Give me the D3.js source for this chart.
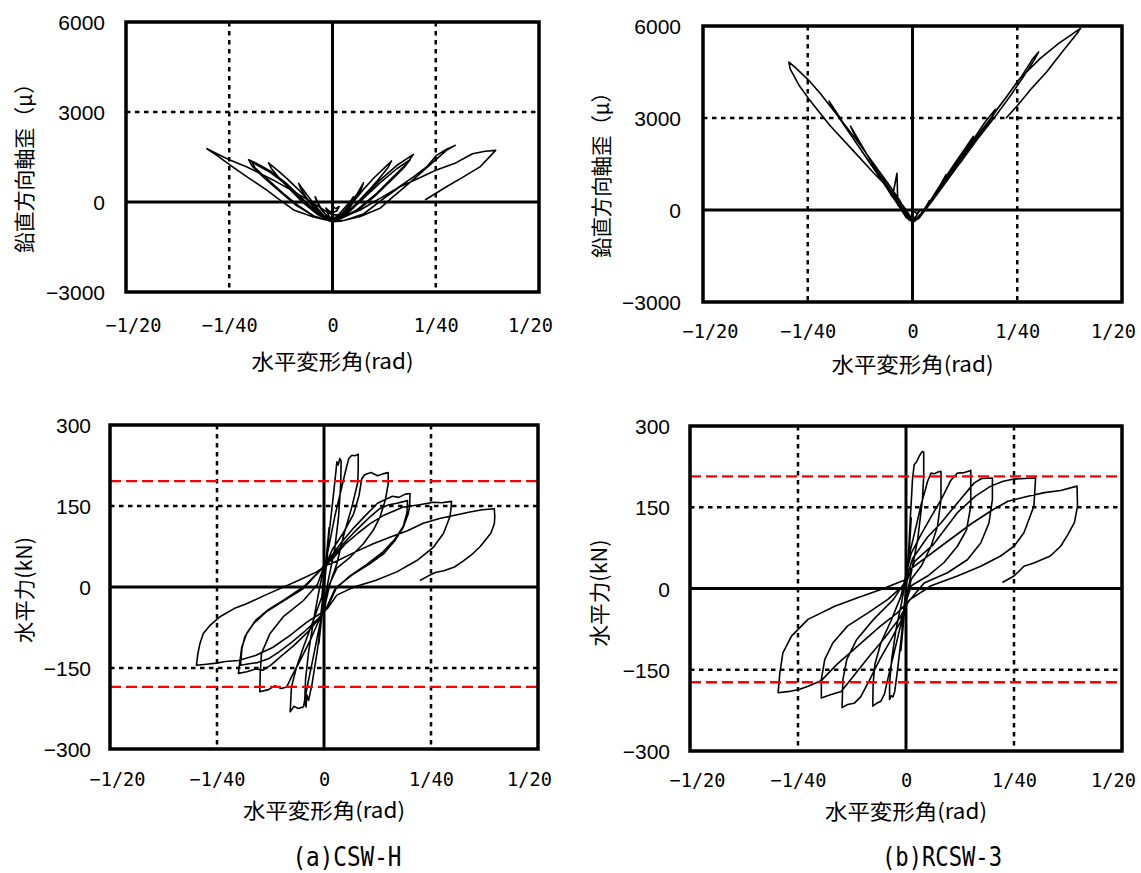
<!DOCTYPE html>
<html><head><meta charset="utf-8">
<script src="https://cdn.jsdelivr.net/npm/d3@7"></script>
<style>body{margin:0;background:#fff}svg{display:block}</style>
</head><body>
<svg id="c" width="1141" height="873"></svg>
<script>
// ---------- data ----------
const xTickValues = [-0.05, -0.025, 0, 0.025, 0.05];
const xTickLabels = ["−1/20", "−1/40", "0", "1/40", "1/20"];
const strainTicks = [-3000, 0, 3000, 6000];
const forceTicks = [-300, -150, 0, 150, 300];
const xTitle = "水平変形角(rad)";
const strainTitle = "鉛直方向軸歪（μ）";
const forceTitle = "水平力(kN)";
const captions = ["(a)CSW-H", "(b)RCSW-3"];
const cswCapacity = [196, -185];
const rcswCapacity = [207, -173];

// (a) CSW-H : drift angle (rad) vs vertical axial strain (μ)
const cswStrain = [
 [0,-150],[0.0008,-220],[0.0016,-150],[0.0010,-300],[0,-360],[-0.0008,-300],[-0.0016,-200],[-0.0010,-350],[0,-430],
 [0.0015,-420],[0.0030,-180],[0.0045,60],[0.0051,176],[0.0046,40],[0.0032,-260],[0.0016,-460],[0,-540],
 [-0.0015,-450],[-0.0030,-160],[-0.0042,176],[-0.0040,70],[-0.0028,-240],[-0.0012,-480],[0,-570],
 [0.0020,-430],[0.0040,-120],[0.0060,280],[0.0075,640],[0.0070,430],[0.0058,150],[0.0040,-230],[0.0020,-510],[0,-610],
 [-0.0020,-470],[-0.0040,-150],[-0.0062,240],[-0.0082,618],[-0.0076,420],[-0.0062,110],[-0.0040,-280],[-0.0018,-530],[0,-620],
 [0.0025,-420],[0.0050,0],[0.0075,420],[0.0100,800],[0.0125,1130],[0.0143,1368],[0.0135,1160],[0.0115,820],[0.0090,420],[0.0060,-20],[0.0030,-430],[0.0008,-610],
 [-0.0025,-440],[-0.0050,-60],[-0.0080,380],[-0.0110,780],[-0.0135,1080],[-0.0155,1302],[-0.0148,1120],[-0.0128,780],[-0.0100,380],[-0.0070,-40],[-0.0035,-430],[-0.0005,-630],
 [0.0035,-375],[0.0075,176],[0.0115,728],[0.0156,1224],[0.0196,1588],[0.0180,1280],[0.0147,838],[0.0107,287],[0.0059,-265],[0.0010,-600],
 [-0.0030,-440],[-0.0070,70],[-0.0110,600],[-0.0150,1030],[-0.0180,1260],[-0.0203,1412],[-0.0195,1200],[-0.0170,860],[-0.0130,380],[-0.0090,-90],[-0.0045,-470],[-0.0005,-640],
 [0.0035,-400],[0.0075,120],[0.0115,640],[0.0155,1100],[0.0188,1412],[0.0175,1180],[0.0145,760],[0.0105,230],[0.0060,-300],[0.0010,-620],
 [-0.0030,-470],[-0.0070,40],[-0.0110,560],[-0.0150,980],[-0.0195,1330],[-0.0188,1150],[-0.0160,790],[-0.0120,300],[-0.0080,-150],[-0.0040,-510],[0,-650],
 [0.0019,-540],[0.0067,-265],[0.0115,121],[0.0156,452],[0.0196,838],[0.0228,1169],[0.0252,1555],[0.0275,1750],[0.0297,1886],[0.0276,1720],[0.0244,1335],[0.0212,949],[0.0180,563],[0.0147,176],[0.0115,-210],[0.0067,-485],[0.0019,-640],[0,-660],
 [-0.0014,-320],[-0.0046,-44],[-0.0086,287],[-0.0143,728],[-0.0207,1169],[-0.0247,1390],[-0.0264,1500],[-0.0304,1776],[-0.0280,1555],[-0.0247,1224],[-0.0207,838],[-0.0159,397],[-0.0127,66],[-0.0094,-265],[-0.0046,-500],[0,-650],
 [0.0030,-610],[0.0075,-400],[0.0119,66],[0.0163,506],[0.0210,800],[0.0250,1058],[0.0295,1280],[0.0339,1610],[0.0370,1690],[0.0395,1720],[0.0357,1169],[0.0317,838],[0.0276,507],[0.0224,66]
];

// (b) RCSW-3 : drift angle (rad) vs vertical axial strain (μ)
const rcswStrain = [
 [0,0],[0.0010,-120],[0.0016,-40],[0.0008,-220],[0,-280],[-0.0010,-220],[-0.0016,-120],[-0.0008,-260],[0,-320],
 [0.0012,-300],[0.0025,-60],[0.0040,300],[0.0032,110],[0.0018,-160],[0.0005,-350],
 [-0.0010,-290],[-0.0025,0],[-0.0045,450],[-0.0038,240],[-0.0022,-80],[-0.0008,-330],[0,-370],
 [0.0012,-300],[0.0030,0],[0.0050,420],[0.0065,780],[0.0080,1150],[0.0074,950],[0.0058,560],[0.0040,190],[0.0020,-170],[0.0005,-360],
 [-0.0012,-280],[-0.0030,80],[-0.0055,620],[-0.0080,1200],[-0.0095,1500],[-0.0088,1280],[-0.0068,870],[-0.0048,420],[-0.0037,1198],[-0.0035,160],[-0.0022,-60],[-0.0005,-350],
 [0.0015,-260],[0.0040,250],[0.0070,900],[0.0100,1500],[0.0125,2000],[0.0145,2400],[0.0138,2200],[0.0115,1750],[0.0085,1150],[0.0055,540],[0.0025,-60],[0.0005,-370],
 [-0.0015,-250],[-0.0040,300],[-0.0070,950],[-0.0100,1600],[-0.0125,2200],[-0.0148,2730],[-0.0140,2500],[-0.0118,2000],[-0.0090,1420],[-0.0060,800],[-0.0030,190],[-0.0008,-320],
 [0.0015,-270],[0.0045,300],[0.0080,1000],[0.0115,1700],[0.0150,2400],[0.0175,2900],[0.0198,3286],[0.0190,3050],[0.0165,2600],[0.0130,1950],[0.0095,1280],[0.0060,620],[0.0030,40],[0.0005,-360],
 [-0.0015,-240],[-0.0045,380],[-0.0080,1100],[-0.0115,1800],[-0.0150,2500],[-0.0175,3050],[-0.0199,3550],[-0.0190,3300],[-0.0165,2800],[-0.0135,2200],[-0.0100,1500],[-0.0065,820],[-0.0030,150],[-0.0008,-320],
 [0.0015,-280],[0.0050,350],[0.0090,1100],[0.0130,1900],[0.0170,2650],[0.0198,3200],[0.0230,3800],[0.0260,4350],[0.0288,4950],[0.0301,5154],[0.0290,4880],[0.0265,4350],[0.0235,3750],[0.0200,3100],[0.0160,2400],[0.0120,1650],[0.0080,950],[0.0045,300],[0.0015,-220],[0,-360],
 [-0.0010,-170],[-0.0030,300],[-0.0060,900],[-0.0100,1650],[-0.0140,2400],[-0.0180,3100],[-0.0219,3780],[-0.0247,4220],[-0.0280,4650],[-0.0295,4825],[-0.0292,4600],[-0.0270,4050],[-0.0247,3615],[-0.0196,2737],[-0.0140,1912],[-0.0092,1198],[-0.0045,538],[-0.0015,0],[0,-320],
 [0.0015,-260],[0.0050,350],[0.0090,1100],[0.0130,1850],[0.0170,2600],[0.0200,3250],[0.0225,3700],[0.0253,4239],[0.0305,4946],[0.0349,5435],[0.0401,5925],[0.0395,5800],[0.0360,5200],[0.0320,4500],[0.0280,3900],[0.0250,3400],[0.0223,2990]
];

// (a) CSW-H : drift angle (rad) vs horizontal force (kN)
const cswForce = [
 [0,0],[0.0006,60],[0.0012,110],[0.0008,60],[0.0001,5],[-0.0006,-60],[-0.0012,-105],[-0.0008,-55],[0,0],
 [0.0004,40],[0.0012,100],[0.0022,170],[0.0028,215],[0.0030,232],[0.0033,226],[0.0037,238],[0.0040,233],[0.0039,190],[0.0034,130],[0.0025,70],[0.0012,20],[0.0002,-20],
 [-0.0006,-60],[-0.0016,-120],[-0.0028,-180],[-0.0036,-210],[-0.0040,-200],[-0.0042,-222],[-0.0045,-210],[-0.0043,-170],[-0.0036,-120],[-0.0024,-60],[-0.0010,0],[0,35],
 [0.0010,70],[0.0025,130],[0.0040,180],[0.0052,220],[0.0058,238],[0.0065,244],[0.0072,243],[0.0080,246],[0.0080,220],[0.0079,194],[0.0065,148],[0.0045,93],[0.0030,43],[0.0014,6],[0.0002,-35],
 [-0.0010,-70],[-0.0025,-130],[-0.0038,-180],[-0.0048,-222],[-0.0060,-225],[-0.0070,-221],[-0.0079,-231],[-0.0077,-200],[-0.0076,-185],[-0.0064,-148],[-0.0048,-111],[-0.0025,-62],[-0.0005,-18],[0.0002,38],
 [0.0020,70],[0.0045,100],[0.0069,135],[0.0082,170],[0.0088,200],[0.0095,208],[0.0110,212],[0.0125,206],[0.0140,210],[0.0150,212],[0.0150,191],[0.0143,160],[0.0131,130],[0.0115,105],[0.0092,80],[0.0061,55],[0.0030,35],[0.0010,0],[0.0002,-38],
 [-0.0012,-62],[-0.0030,-95],[-0.0055,-135],[-0.0075,-165],[-0.0087,-185],[-0.0100,-188],[-0.0115,-183],[-0.0130,-190],[-0.0150,-194],[-0.0149,-160],[-0.0146,-123],[-0.0126,-86],[-0.0095,-55],[-0.0048,-25],[-0.0015,5],[0,38],
 [0.0015,55],[0.0040,82],[0.0070,110],[0.0100,135],[0.0125,155],[0.0146,163],[0.0160,168],[0.0175,166],[0.0190,172],[0.0201,173],[0.0200,150],[0.0197,136],[0.0185,110],[0.0165,85],[0.0140,62],[0.0105,42],[0.0065,22],[0.0030,0],[0.0008,-38],
 [-0.0015,-62],[-0.0040,-85],[-0.0070,-108],[-0.0100,-128],[-0.0125,-145],[-0.0142,-154],[-0.0160,-152],[-0.0180,-157],[-0.0200,-160],[-0.0196,-135],[-0.0192,-111],[-0.0180,-85],[-0.0160,-62],[-0.0130,-42],[-0.0090,-22],[-0.0045,2],[-0.0010,30],[0,40],
 [0.0015,52],[0.0045,80],[0.0075,105],[0.0105,128],[0.0130,145],[0.0150,152],[0.0170,155],[0.0195,160],[0.0194,138],[0.0185,112],[0.0165,88],[0.0138,65],[0.0100,42],[0.0060,20],[0.0025,-5],[0.0005,-40],
 [-0.0015,-60],[-0.0045,-82],[-0.0075,-102],[-0.0105,-120],[-0.0130,-133],[-0.0155,-140],[-0.0175,-142],[-0.0195,-145],[-0.0192,-115],[-0.0185,-92],[-0.0165,-68],[-0.0135,-46],[-0.0095,-26],[-0.0050,-4],[-0.0012,28],[0,38],
 [0.0020,52],[0.0050,80],[0.0080,100],[0.0107,117],[0.0140,133],[0.0185,148],[0.0220,152],[0.0256,157],[0.0275,156],[0.0298,158.6],[0.0296,140],[0.0294,129.6],[0.0279,99],[0.0256,74],[0.0217,49],[0.0170,28],[0.0120,12],[0.0070,0],[0.0030,-15],[0.0008,-40],
 [-0.0010,-50],[-0.0040,-65],[-0.0080,-90],[-0.0120,-112],[-0.0160,-127],[-0.0200,-136],[-0.0230,-138],[-0.0251,-141],[-0.0275,-143],[-0.0298,-145],[-0.0295,-125],[-0.0290,-105],[-0.0282,-86],[-0.0265,-70],[-0.0243,-55],[-0.0210,-40],[-0.0181,-31],[-0.0140,-16],[-0.0103,-3],[-0.0060,12],[-0.0017,28],[0.0005,40],
 [0.0030,48],[0.0076,66],[0.0115,80],[0.0154,92],[0.0195,104],[0.0232,118],[0.0270,127],[0.0300,132],[0.0341,139],[0.0370,143],[0.0398,145],[0.0399,130],[0.0398,117],[0.0390,100],[0.0380,90],[0.0365,75],[0.0348,62],[0.0325,48],[0.0305,37],[0.0280,30],[0.0260,27],[0.0245,21],[0.0224,12]
];

// (b) RCSW-3 : drift angle (rad) vs horizontal force (kN)
const rcswForce = [
 [0,0],[0.0006,70],[0.0012,130],[0.0008,75],[0.0001,10],[-0.0006,-65],[-0.0012,-115],[-0.0008,-60],[0,0],
 [0.0005,50],[0.0010,130],[0.0015,201],[0.0019,229],[0.0023,232],[0.0027,238],[0.0031,245],[0.0035,250],[0.0038,253],[0.0041,252],[0.0041,207],[0.0038,164],[0.0027,90],[0.0012,29],[0.0003,-10],
 [-0.0008,-70],[-0.0018,-140],[-0.0026,-190],[-0.0030,-200],[-0.0034,-198],[-0.0038,-205],[-0.0038,-175],[-0.0033,-130],[-0.0023,-75],[-0.0010,-25],[0,20],
 [0.0010,70],[0.0025,120],[0.0035,155],[0.0044,180],[0.0050,198],[0.0058,213],[0.0066,212],[0.0074,215],[0.0081,216.5],[0.0081,164],[0.0073,115],[0.0058,78],[0.0035,41],[0.0012,17],[0.0002,-20],
 [-0.0010,-60],[-0.0025,-110],[-0.0040,-160],[-0.0050,-195],[-0.0058,-208],[-0.0068,-212],[-0.0077,-217],[-0.0076,-175],[-0.0072,-140],[-0.0058,-100],[-0.0035,-60],[-0.0012,-15],[0,25],
 [0.0012,65],[0.0035,100],[0.0060,135],[0.0082,165],[0.0104,200],[0.0119,213],[0.0135,214],[0.0150,218],[0.0150,152],[0.0140,108],[0.0119,78],[0.0088,48],[0.0050,23],[0.0012,5],[0,-25],
 [-0.0012,-60],[-0.0035,-95],[-0.0060,-130],[-0.0085,-170],[-0.0105,-200],[-0.0120,-212],[-0.0135,-214],[-0.0148,-220],[-0.0146,-168],[-0.0137,-131],[-0.0114,-94],[-0.0075,-57],[-0.0029,-20],[0,15],
 [0.0015,55],[0.0050,95],[0.0081,121],[0.0119,158],[0.0158,195],[0.0175,203],[0.0200,204],[0.0200,164],[0.0192,121],[0.0173,84],[0.0142,53],[0.0096,29],[0.0042,10],[0.0005,-25],
 [-0.0015,-55],[-0.0050,-92],[-0.0085,-125],[-0.0120,-160],[-0.0150,-190],[-0.0175,-196],[-0.0196,-202],[-0.0196,-168],[-0.0188,-131],[-0.0169,-100],[-0.0135,-69],[-0.0088,-45],[-0.0042,-20],[0,10],
 [0.0020,50],[0.0062,80],[0.0119,140],[0.0160,170],[0.0196,189],[0.0225,198],[0.0250,202],[0.0275,203],[0.0300,204],[0.0296,152],[0.0273,103],[0.0250,78],[0.0219,60],[0.0173,41],[0.0119,23],[0.0058,5],[0.0010,-20],
 [-0.0020,-45],[-0.0060,-70],[-0.0110,-105],[-0.0160,-140],[-0.0196,-170],[-0.0225,-180],[-0.0246,-186],[-0.0270,-190],[-0.0296,-192.5],[-0.0292,-155.6],[-0.0285,-118.7],[-0.0265,-88],[-0.0227,-57],[-0.0165,-32.6],[-0.0112,-17],[-0.0058,-2],[0,16.6],
 [0.0004,32],[0.0081,78],[0.0152,120],[0.0200,145],[0.0236,161],[0.0280,170],[0.0320,177],[0.0358,181],[0.0396,189],[0.0397,152],[0.0390,122],[0.0375,100],[0.0358,78],[0.0334,60],[0.0296,47],[0.0273,41],[0.0250,23],[0.0223,11]
];

// ---------- layout ----------
const panels = [
 {data: cswStrain, yDomain: [-3000, 6000], yTicks: strainTicks, yGrid: [3000], cap: null, yTitle: strainTitle, yTitleLen: 180,
  x0: 126, x1: 539, y0: 22, y1: 292, yLabelX: 105, yTitleX: 24, yTitleY: 163, xTickY: 325, xTitleY: 361},
 {data: rcswStrain, yDomain: [-3000, 6000], yTicks: strainTicks, yGrid: [3000], cap: null, yTitle: strainTitle, yTitleLen: 176,
  x0: 703, x1: 1122, y0: 26, y1: 302, yLabelX: 681, yTitleX: 601, yTitleY: 170, xTickY: 331, xTitleY: 364},
 {data: cswForce, yDomain: [-300, 300], yTicks: forceTicks, yGrid: [-150, 150], cap: cswCapacity, yTitle: forceTitle, yTitleLen: 106,
  x0: 110, x1: 538, y0: 425, y1: 749, yLabelX: 91, yTitleX: 24, yTitleY: 590, xTickY: 779, xTitleY: 810},
 {data: rcswForce, yDomain: [-300, 300], yTicks: forceTicks, yGrid: [-150, 150], cap: rcswCapacity, yTitle: forceTitle, yTitleLen: 107,
  x0: 690, x1: 1122, y0: 426, y1: 751, yLabelX: 670, yTitleX: 599, yTitleY: 593, xTickY: 780, xTitleY: 811}
];
const captionPos = [{x: 347, y: 866, w: 109}, {x: 942, y: 866, w: 120}];
const xTitleLen = 162;

const svg = d3.select("#c");
svg.append("rect").attr("width", 1141).attr("height", 873).attr("fill", "#fff");

const CJK = "'Noto Sans CJK JP','Noto Sans CJK SC',sans-serif";

panels.forEach(p => {
  const x = d3.scaleLinear().domain([-0.05, 0.05]).range([p.x0, p.x1]);
  const y = d3.scaleLinear().domain(p.yDomain).range([p.y1, p.y0]);
  const g = svg.append("g");

  // dotted grid
  g.selectAll(".vg").data([-0.025, 0.025]).join("line")
    .attr("x1", d => x(d)).attr("x2", d => x(d)).attr("y1", p.y0).attr("y2", p.y1)
    .attr("stroke", "#000").attr("stroke-width", 2.5).attr("stroke-dasharray", "4.5,4.5");
  g.selectAll(".hg").data(p.yGrid).join("line")
    .attr("x1", p.x0).attr("x2", p.x1).attr("y1", d => y(d)).attr("y2", d => y(d))
    .attr("stroke", "#000").attr("stroke-width", 2.5).attr("stroke-dasharray", "4.5,4.5");

  // zero axes
  g.append("line").attr("x1", x(0)).attr("x2", x(0)).attr("y1", p.y0).attr("y2", p.y1)
    .attr("stroke", "#000").attr("stroke-width", 3);
  g.append("line").attr("x1", p.x0).attr("x2", p.x1).attr("y1", y(0)).attr("y2", y(0))
    .attr("stroke", "#000").attr("stroke-width", 3);

  // data curve
  const line = d3.line().x(d => x(d[0])).y(d => y(d[1]));
  g.append("path").datum(p.data).attr("d", line)
    .attr("fill", "none").attr("stroke", "#000").attr("stroke-width", 1.6)
    .attr("stroke-linejoin", "round");

  // capacity lines
  if (p.cap) {
    g.selectAll(".cap").data(p.cap).join("line")
      .attr("x1", p.x0).attr("x2", p.x1).attr("y1", d => y(d)).attr("y2", d => y(d))
      .attr("stroke", "#ff0000").attr("stroke-width", 2.4).attr("stroke-dasharray", "11,5");
  }

  // frame
  g.append("rect").attr("x", p.x0).attr("y", p.y0)
    .attr("width", p.x1 - p.x0).attr("height", p.y1 - p.y0)
    .attr("fill", "none").attr("stroke", "#000").attr("stroke-width", 3.5);

  // y axis labels
  const ya = g.append("g").attr("transform", `translate(${p.yLabelX},0)`)
    .call(d3.axisLeft(y).tickValues(p.yTicks).tickSize(0).tickPadding(0)
      .tickFormat(d => d < 0 ? "−" + Math.abs(d) : String(d)));
  ya.select(".domain").remove();
  ya.selectAll("text").attr("font-family", "'Liberation Sans',Arial,sans-serif")
    .attr("font-size", 21).attr("fill", "#000").attr("dy", "0.36em");

  // x axis labels
  const xa = g.append("g").attr("transform", `translate(0,${p.xTickY})`)
    .call(d3.axisBottom(x).tickValues(xTickValues).tickSize(0).tickPadding(0)
      .tickFormat((d, i) => xTickLabels[i]));
  xa.select(".domain").remove();
  xa.selectAll("text").attr("font-family", "'DejaVu Sans Mono',monospace")
    .attr("font-size", 20).attr("fill", "#000").attr("y", 0).attr("dy", "0.36em")
    .attr("textLength", (d, i) => xTickLabels[i].length * 11.2)
    .attr("lengthAdjust", "spacingAndGlyphs")
    .attr("dx", (d, i) => i === 0 ? 7 : (i === xTickValues.length - 1 ? -9 : 0));

  // titles
  g.append("text").attr("x", x(0)).attr("y", p.xTitleY).attr("dy", "0.36em")
    .attr("text-anchor", "middle").attr("font-family", CJK).attr("font-size", 21)
    .attr("textLength", xTitleLen).attr("lengthAdjust", "spacingAndGlyphs")
    .attr("fill", "#000").text(xTitle);
  g.append("text").attr("transform", `translate(${p.yTitleX},${p.yTitleY}) rotate(-90)`)
    .attr("dy", "0.36em").attr("text-anchor", "middle").attr("font-family", CJK)
    .attr("font-size", 21).attr("textLength", p.yTitleLen).attr("lengthAdjust", "spacingAndGlyphs")
    .attr("fill", "#000").text(p.yTitle);
});

// captions
svg.selectAll(".caption").data(captions).join("text")
  .attr("x", (d, i) => captionPos[i].x).attr("y", (d, i) => captionPos[i].y)
  .attr("text-anchor", "middle").attr("font-family", "'DejaVu Sans Mono',monospace")
  .attr("font-size", 26).attr("fill", "#000")
  .attr("textLength", (d, i) => captionPos[i].w).attr("lengthAdjust", "spacingAndGlyphs")
  .text(d => d);
</script>
</body></html>
